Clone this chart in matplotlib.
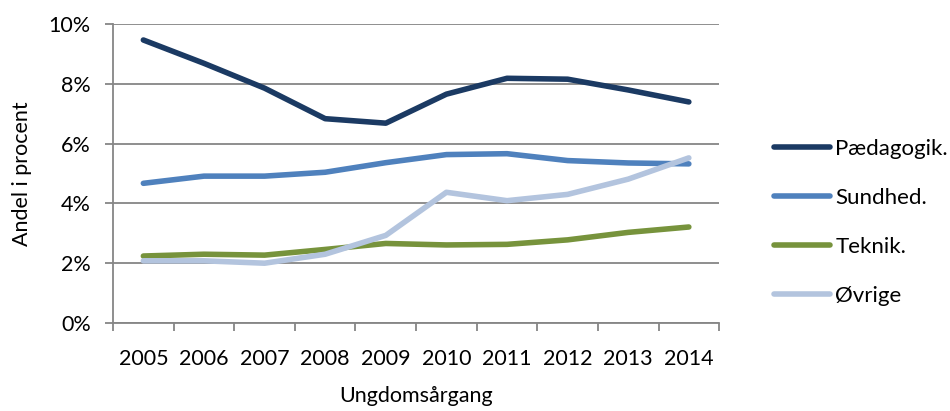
import matplotlib
matplotlib.use("Agg")
import matplotlib.pyplot as plt
from matplotlib.ticker import FixedLocator, PercentFormatter

plt.rcParams['font.family'] = ['Lato', 'DejaVu Sans']

years = ["2005", "2006", "2007", "2008", "2009", "2010", "2011", "2012", "2013", "2014"]
paedagogik = [9.46, 8.68, 7.85, 6.83, 6.68, 7.65, 8.18, 8.15, 7.79, 7.39]
sundhed = [4.67, 4.91, 4.91, 5.04, 5.36, 5.63, 5.66, 5.43, 5.35, 5.32]
teknik = [2.24, 2.30, 2.27, 2.46, 2.66, 2.61, 2.63, 2.78, 3.03, 3.21]
oevrige = [2.08, 2.08, 2.00, 2.30, 2.93, 4.37, 4.09, 4.30, 4.81, 5.52]

series = [
    ("Pædagogik.", paedagogik, "#1b3a63"),
    ("Sundhed.", sundhed, "#4f81bd"),
    ("Teknik.", teknik, "#77933c"),
    ("Øvrige", oevrige, "#b3c4de"),
]

grid_col = "#868686"
fs = 15.5

fig = plt.figure(figsize=(9.5, 4.11), dpi=100)
ax = fig.add_axes([0.119, 0.214, 0.638, 0.728])

x = list(range(len(years)))
for name, vals, col in series:
    ax.plot(x, vals, color=col, lw=4, label=name, solid_capstyle="round", zorder=3)

ax.set_xlim(-0.5, len(years) - 0.5)
ax.set_ylim(0, 10)
ax.set_yticks([0, 2, 4, 6, 8, 10])
ax.yaxis.set_major_formatter(PercentFormatter(decimals=0))
ax.grid(axis="y", color=grid_col, lw=1.3)
ax.set_axisbelow(True)

ax.set_xticks(x)
ax.set_xticklabels(years)
ax.xaxis.set_minor_locator(FixedLocator([i - 0.5 for i in range(len(years) + 1)]))
ax.tick_params(axis="x", which="major", length=0, pad=19, labelsize=fs)
ax.tick_params(axis="x", which="minor", length=6, color=grid_col, width=1.3, direction="out")
ax.tick_params(axis="y", length=6, color=grid_col, width=1.3, labelsize=fs, pad=10)

for s in ["top", "right"]:
    ax.spines[s].set_visible(False)
for s in ["left", "bottom"]:
    ax.spines[s].set_color(grid_col)
    ax.spines[s].set_linewidth(1.3)

ax.set_xlabel("Ungdomsårgang", fontsize=fs, labelpad=12)
ax.set_ylabel("Andel i procent", fontsize=fs, labelpad=12)

fig.legend(loc="upper left", bbox_to_anchor=(0.794, 0.71), frameon=False,
           fontsize=16, handlelength=2.5, handletextpad=0.25, labelspacing=1.3)

fig.savefig("out.png", dpi=100)
